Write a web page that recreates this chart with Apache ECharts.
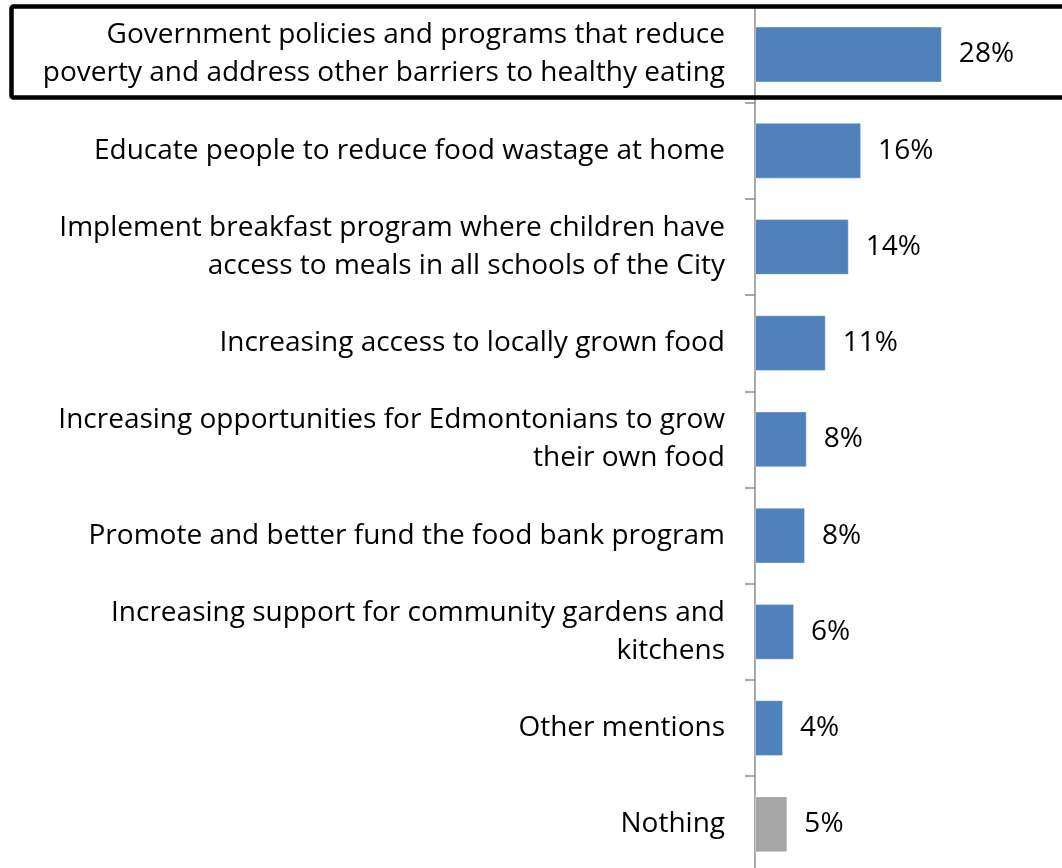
<!DOCTYPE html>
<html>
<head>
<meta charset="utf-8">
<script src="https://cdn.jsdelivr.net/npm/echarts@6/dist/echarts.min.js"></script>
<style>
html,body{margin:0;padding:0;background:#fff;}
#chart{width:1062px;height:868px;}
</style>
</head>
<body>
<div id="chart"></div>
<script>
const categories = [
  "Government policies and programs that reduce\npoverty and address other barriers to healthy eating",
  "Educate people to reduce food wastage at home",
  "Implement breakfast program where children have\naccess to meals in all schools of the City",
  "Increasing access to locally grown food",
  "Increasing opportunities for Edmontonians to grow\ntheir own food",
  "Promote and better fund the food bank program",
  "Increasing support for community gardens and\nkitchens",
  "Other mentions",
  "Nothing"
];
const values = [28, 15.9, 14.05, 10.6, 7.75, 7.5, 5.85, 4.2, 4.85];
const valueLabels = ["28%", "16%", "14%", "11%", "8%", "8%", "6%", "4%", "5%"];
const barColors = ["#4F81BD","#4F81BD","#4F81BD","#4F81BD","#4F81BD","#4F81BD","#4F81BD","#4F81BD","#A5A5A5"];

const FONT = "Open Sans";
const chart = echarts.init(document.getElementById('chart'), null, {renderer: 'canvas'});
chart.setOption({
  animation: false,
  backgroundColor: '#ffffff',
  textStyle: {fontFamily: FONT},
  grid: {left: 755, right: 0, top: 6.4, height: 866, outerBoundsMode: 'none', containLabel: false},
  xAxis: {type: 'value', min: 0, max: 46, show: false},
  yAxis: {
    type: 'category',
    data: categories,
    inverse: true,
    axisLine: {show: true, lineStyle: {color: '#8c8c8c', width: 1.5}},
    axisTick: {show: true, length: 10, alignWithLabel: false, lineStyle: {color: '#8c8c8c', width: 1.5}},
    axisLabel: {
      margin: 30, color: '#000', fontFamily: FONT, fontSize: 28, lineHeight: 38, align: 'right', interval: 0
    },
    splitLine: {show: false}
  },
  series: [{
    type: 'bar',
    data: values.map((v, i) => ({value: v, itemStyle: {color: barColors[i]}})),
    barWidth: '58%',
    itemStyle: {borderColor: 'rgba(255,255,255,0.35)', borderWidth: 1},
    label: {
      show: true, position: 'right', distance: 17, color: '#000',
      fontFamily: FONT, fontSize: 28,
      formatter: p => valueLabels[p.dataIndex]
    }
  }],
  graphic: [{
    type: 'rect',
    shape: {x: 11.5, y: 6.5, width: 1100, height: 91, r: 2},
    style: {fill: 'none', stroke: '#000', lineWidth: 4.5},
    z: 100
  }]
});
</script>
</body>
</html>
